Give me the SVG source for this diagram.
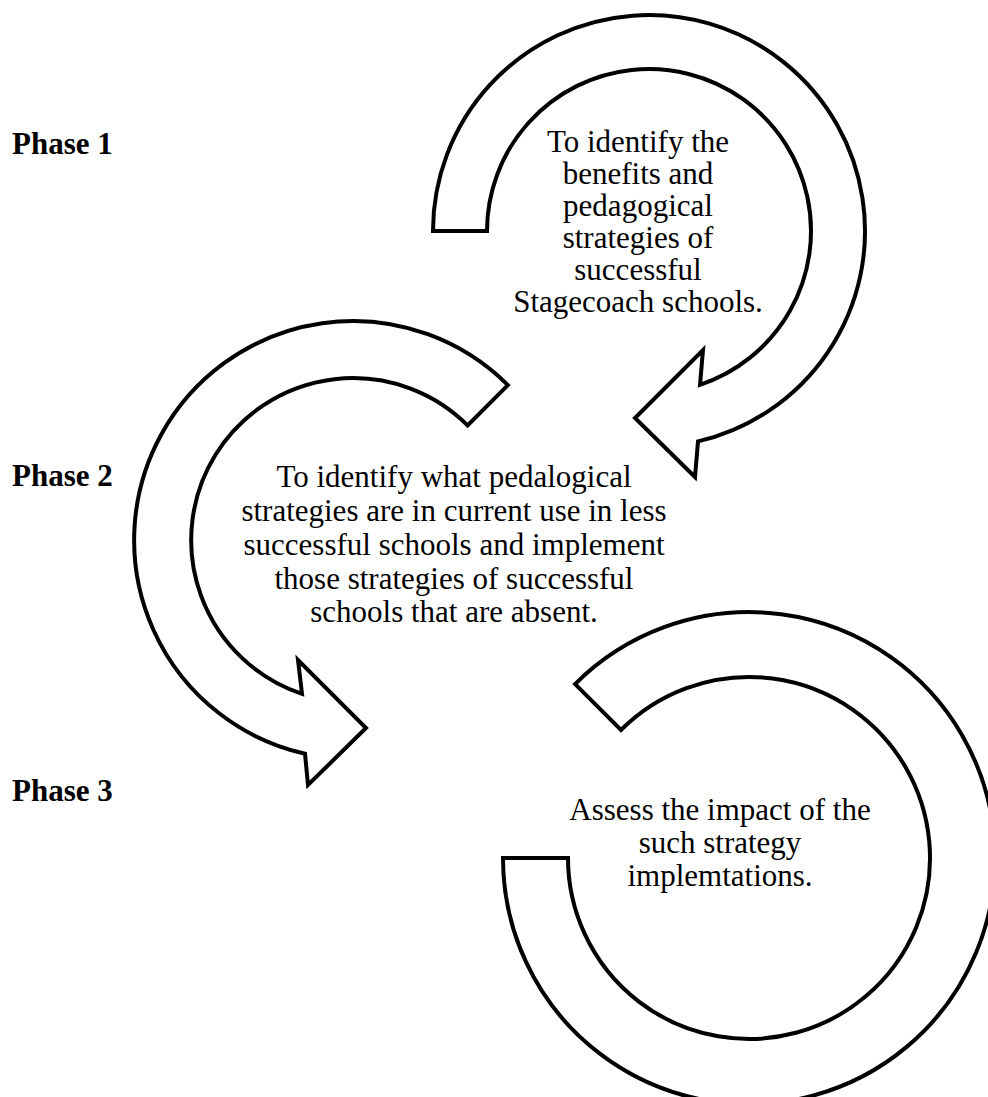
<svg xmlns="http://www.w3.org/2000/svg" width="988" height="1097" viewBox="0 0 988 1097">
  <style>
    .arc { fill: #ffffff; stroke: #000000; stroke-width: 4; stroke-linejoin: miter; }
    .phase { font-family: "Liberation Serif", "Times New Roman", serif; font-size: 31px; font-weight: bold; fill: #000000; }
    .body { font-family: "Liberation Serif", "Times New Roman", serif; font-size: 31px; fill: #000000; text-anchor: middle; }
  </style>
  <rect x="0" y="0" width="988" height="1097" fill="#ffffff"/>

  <g id="arrows">
    <path id="arrow-1" class="arc" d="M 433 231 A 216 216 0 1 1 698 441.4 L 695 477 L 635 418 L 703 350 L 700 384.8 A 162 162 0 1 0 487 231 Z"/>
    <path id="arrow-2" class="arc" d="M 507.9 385.1 A 219 219 0 1 0 305 753.7 L 308 785 L 366 728 L 298 660 L 302 693.8 A 162 162 0 1 1 467.6 425.4 Z"/>
    <path id="arrow-3" class="arc" d="M 503 858 A 246 246 0 1 0 575.1 684.1 L 621 730 A 181 181 0 1 1 568 858 Z"/>
  </g>

  <g id="label-phase-1"><text class="phase" x="12" y="154">Phase 1</text></g>
  <g id="label-phase-2"><text class="phase" x="12" y="486">Phase 2</text></g>
  <g id="label-phase-3"><text class="phase" x="12" y="801">Phase 3</text></g>

  <g id="node-phase-1">
    <text class="body" x="638" y="152">To identify the</text>
    <text class="body" x="638" y="184">benefits and</text>
    <text class="body" x="638" y="216">pedagogical</text>
    <text class="body" x="638" y="248">strategies of</text>
    <text class="body" x="638" y="280">successful</text>
    <text class="body" x="638" y="312">Stagecoach schools.</text>
  </g>

  <g id="node-phase-2">
    <text class="body" x="454" y="487">To identify what pedalogical</text>
    <text class="body" x="454" y="521">strategies are in current use in less</text>
    <text class="body" x="454" y="555">successful schools and implement</text>
    <text class="body" x="454" y="589">those strategies of successful</text>
    <text class="body" x="454" y="622">schools that are absent.</text>
  </g>

  <g id="node-phase-3">
    <text class="body" x="720" y="820">Assess the impact of the</text>
    <text class="body" x="720" y="853">such strategy</text>
    <text class="body" x="720" y="886">implemtations.</text>
  </g>
</svg>
